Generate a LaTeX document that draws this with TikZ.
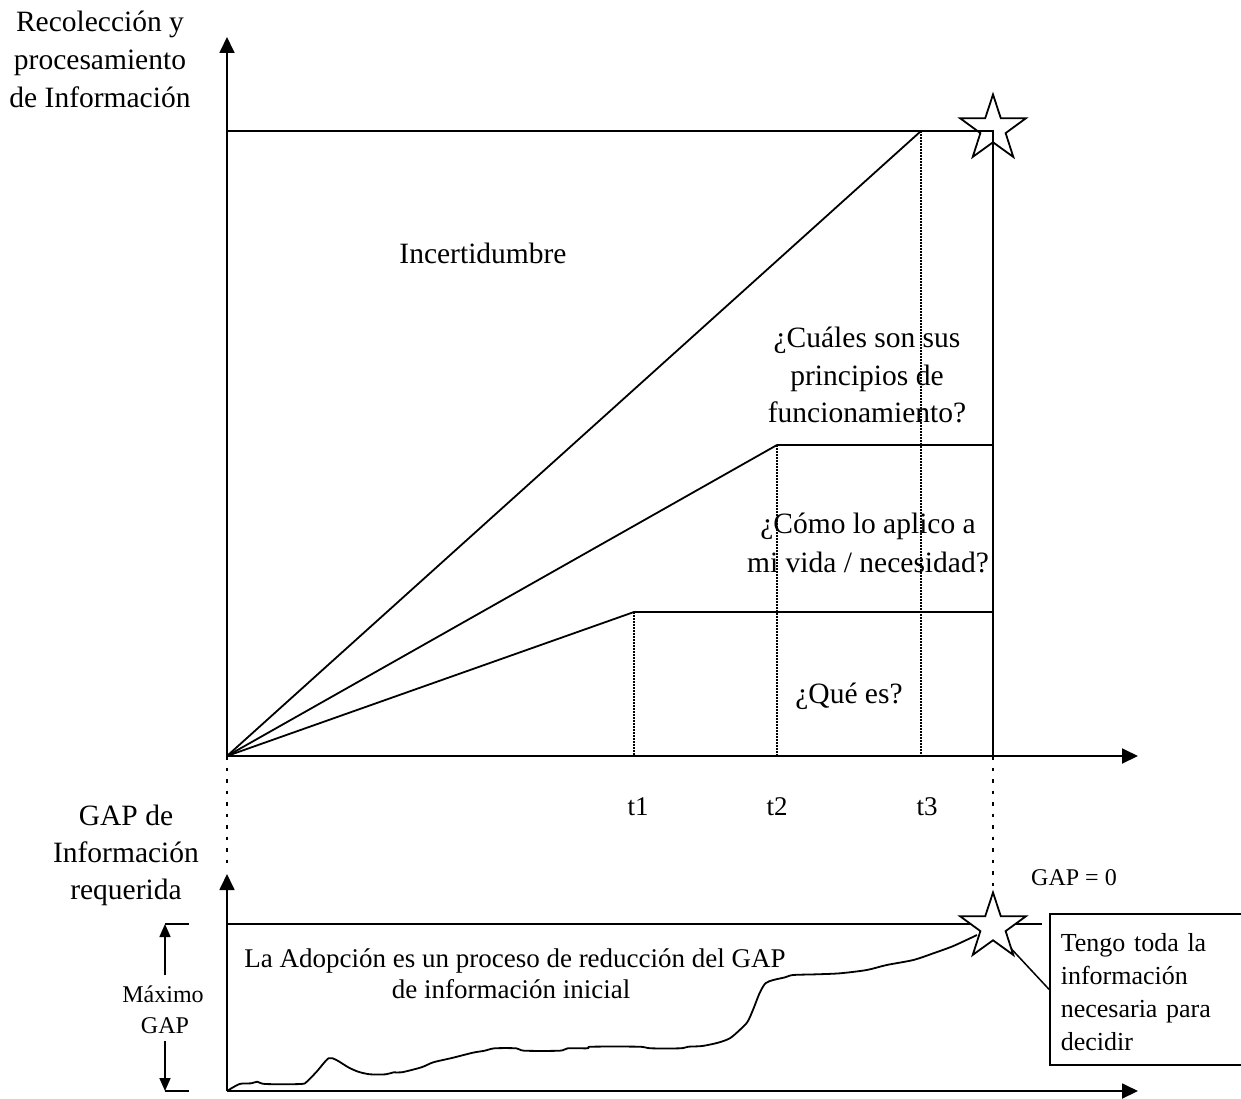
\documentclass[tikz,border=0pt]{standalone}
\usepackage{fontspec}
\setmainfont{Liberation Serif}
\usetikzlibrary{arrows.meta,shapes.geometric}
\begin{document}
\begin{tikzpicture}[x=1pt,y=-1pt,
  line/.style={line width=1.8pt},
  axis/.style={line width=1.8pt,-{Triangle[length=16pt,width=15pt]}},
  guide/.style={line width=2pt,dash pattern=on 1.6pt off 1.4pt},
  drop/.style={line width=2.2pt,dash pattern=on 3.5pt off 8pt},
  big/.style={font=\fontsize{29.5}{38}\selectfont, inner sep=0pt, anchor=base},
  mid/.style={font=\fontsize{27}{31}\selectfont, inner sep=0pt, anchor=base},
  small/.style={font=\fontsize{24}{31}\selectfont, inner sep=0pt, anchor=base},
  starshape/.style={star, star points=5, star point ratio=2.6, minimum size=69pt,
                    inner sep=0pt, outer sep=0pt, draw, line width=1.8pt},
  dim/.style={line width=1.6pt,-{Triangle[length=13pt,width=11pt]}},
]
\useasboundingbox (0,0) rectangle (1241,1099);

% ---------- upper chart: information gathering over time ----------
\coordinate (O)    at (227,756);
\coordinate (ytop) at (227,37);
\coordinate (xend) at (1138,756);
\coordinate (tl)   at (227,131);
\coordinate (tr)   at (993,131);
\coordinate (br)   at (993,756);
\coordinate (p3)   at (921,131);
\coordinate (p2)   at (777,445);
\coordinate (p1)   at (634,612);
\coordinate (q2)   at (993,445);
\coordinate (q1)   at (993,612);
\coordinate (a1)   at (634,756);
\coordinate (a2)   at (777,756);
\coordinate (a3)   at (921,756);

\draw[axis] (O) -- (ytop);
\draw[axis] (O) -- (xend);
\draw[line] (tl) -- (tr) -- (br);
\draw[line] (O) -- (p3);
\draw[line] (O) -- (p2) -- (q2);
\draw[line] (O) -- (p1) -- (q1);

\draw[guide] (p1) -- (a1);
\draw[guide] (p2) -- (a2);
\draw[guide] (p3) -- (a3);

\node[starshape] (ustar) at (993,129) {};

\node[big] (ylab1) at (100,32)  {Recolección y};
\node[big] (ylab2) at (100,70)  {procesamiento};
\node[big] (ylab3) at (100,108) {de Información};

\node[big] (unc) at (483,263) {Incertidumbre};

\node[big] (qa1) at (867,347) {¿Cuáles son sus};
\node[big] (qa2) at (867,385) {principios de};
\node[big] (qa3) at (867,422) {funcionamiento?};

\node[big] (qb1) at (868,533) {¿Cómo lo aplico a};
\node[big] (qb2) at (868,572) {mi vida / necesidad?};

\node[big] (qc) at (849,703) {¿Qué es?};

\node[mid] (t1) at (638,815) {t1};
\node[mid] (t2) at (777,815) {t2};
\node[mid] (t3) at (927,815) {t3};

% ---------- lower chart: required information gap ----------
\coordinate (O2)    at (227,1091);
\coordinate (y2top) at (227,874);
\coordinate (x2end) at (1138,1091);
\coordinate (g0)    at (227,924);
\coordinate (g1)    at (1042,924);
\coordinate (dtop)  at (227,868);

\draw[drop] (O) -- (dtop);
\draw[axis] (O2) -- (y2top);
\draw[axis] (O2) -- (x2end);
\draw[line] (g0) -- (g1);

\draw[line, line join=round] plot[smooth, tension=0.45] coordinates {
  (227,1091) (239.5,1084) (251.4,1083.3) (257.3,1081.7) (265.2,1084)
  (300.8,1084) (306.8,1081.7) (316.6,1071.7) (328.5,1058.3) (336.4,1060)
  (348.3,1067.3) (358.2,1071.7) (370,1074.3) (385.8,1074.3) (393.7,1072.3)
  (401.7,1072.3) (421.4,1067.3) (433.3,1062.3) (453.1,1057.7) (472.8,1052.7)
  (484.7,1050.7) (494.6,1048.3) (516.3,1048.3) (524.2,1050.7) (559.8,1050.7)
  (567.7,1048.3) (587.5,1048.3) (591.4,1046.7) (638.9,1046.7) (650.8,1048.3)
  (680.4,1048.3) (688.3,1046.7) (702.2,1046) (718,1042.7) (729.8,1038.3)
  (739.7,1030) (747.6,1021.7) (753.6,1008.3) (759.5,993.3) (765.4,983.3)
  (773.3,980) (785.2,977.3) (793.1,975) (816.8,974.3) (840,973.3)
  (866.7,970) (886.7,965) (913.3,960) (933.3,953.3) (953.3,946) (977,935)};

\node[starshape, fill=white] (lstar) at (993,927) {};
\draw[drop] (br) -- (lstar.north);

\node[draw, line width=1.6pt, anchor=north west, minimum width=192pt,
      minimum height=151pt, text width=170pt, align=left, inner xsep=11pt,
      font=\fontsize{26}{33}\selectfont] (box) at (1049,913)
      {\rule{0pt}{24pt}Tengo toda la\\información\\necesaria para\\decidir};
\draw[line width=1.5pt] (lstar.-50) -- (box.west);

\node[small] (gap0) at (1074,885) {GAP = 0};

\node[big] (glab1) at (126,825) {GAP de};
\node[big] (glab2) at (126,862) {Información};
\node[big] (glab3) at (126,899) {requerida};

\node[mid] (ad1) at (515,967) {La Adopción es un proceso de reducción del GAP};
\node[mid] (ad2) at (511,998) {de información inicial};

% maximum gap dimension
\coordinate (m1)  at (165,924);
\coordinate (m1r) at (189,924);
\coordinate (m2)  at (165,1091);
\coordinate (m2r) at (189,1091);
\coordinate (m1s) at (165,975);
\coordinate (m2s) at (165,1041);
\draw[line] (m1) -- (m1r);
\draw[line] (m2) -- (m2r);
\draw[dim] (m1s) -- (m1);
\draw[dim] (m2s) -- (m2);
\node[small] (mx1) at (163,1002) {Máximo};
\node[small] (mx2) at (165,1033) {GAP};

\end{tikzpicture}
\end{document}
